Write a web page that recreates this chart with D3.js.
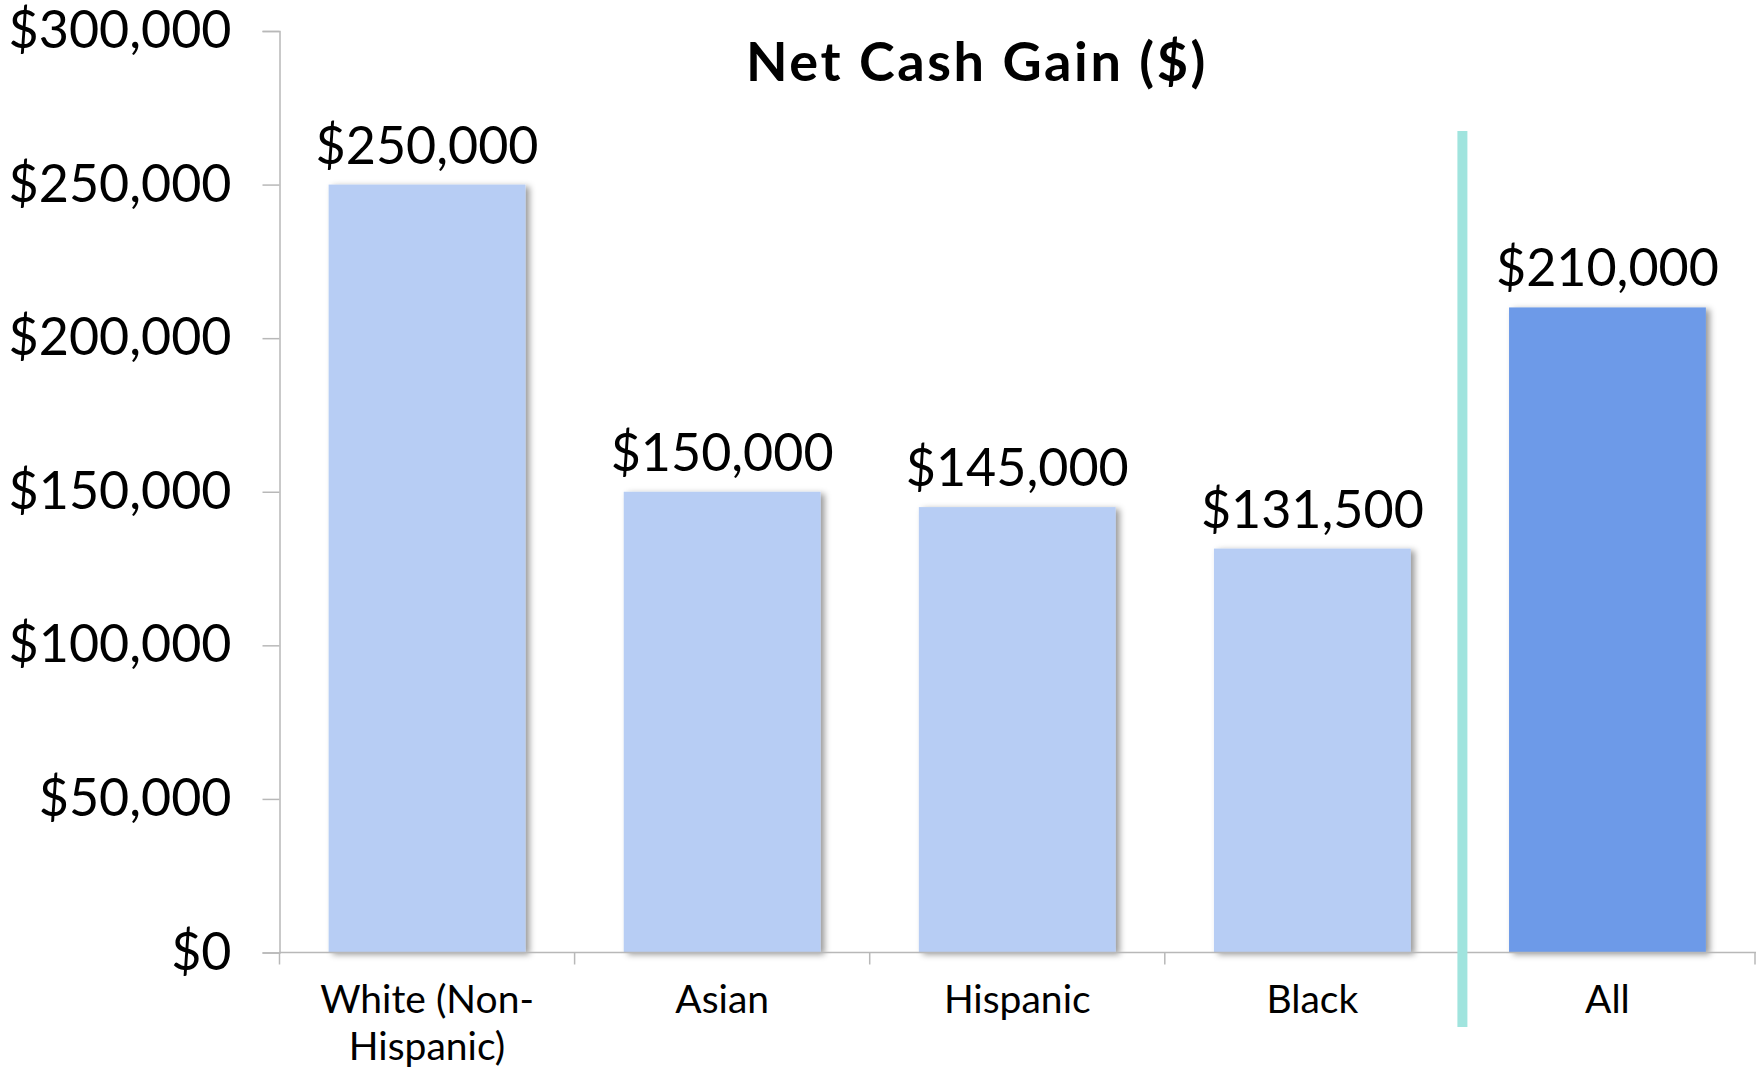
<!DOCTYPE html>
<html>
<head>
<meta charset="utf-8">
<script src="https://cdn.jsdelivr.net/npm/d3@7"></script>
<style>
  html, body { margin: 0; padding: 0; background: #fff; }
  svg { display: block; }
  text { font-family: Lato, "Open Sans", sans-serif; fill: #000; }
</style>
</head>
<body>
<svg id="chart" width="1756" height="1068"></svg>
<script>
// Net cash gain by group
const categories = ["White (Non-Hispanic)", "Asian", "Hispanic", "Black", "All"];
const categoryLines = [["White (Non-", "Hispanic)"], ["Asian"], ["Hispanic"], ["Black"], ["All"]];
const values = [250000, 150000, 145000, 131500, 210000];
const yTicks = [0, 50000, 100000, 150000, 200000, 250000, 300000];
const title = "Net Cash Gain ($)";

const W = 1756, H = 1068;
const plotLeft = 279.5, plotRight = 1755, plotTop = 31, plotBottom = 952.5;

const svg = d3.select("#chart");

const defs = svg.append("defs");
const shadow = defs.append("filter").attr("id", "barShadow")
  .attr("x", "-10%").attr("y", "-10%").attr("width", "130%").attr("height", "120%");
shadow.append("feDropShadow")
  .attr("dx", 4).attr("dy", 2).attr("stdDeviation", 3)
  .attr("flood-color", "#000").attr("flood-opacity", 0.4);

const x = d3.scaleBand().domain(categories).range([plotLeft, plotRight])
  .paddingInner(0.333).paddingOuter(0.1665);
const y = d3.scaleLinear().domain([0, 300000]).range([plotBottom, plotTop]);

const money = v => "$" + d3.format(",")(v);
const axisColor = "#B8B8B8";

// y axis
const yAxis = svg.append("g").attr("transform", `translate(${plotLeft},0)`)
  .call(d3.axisLeft(y).tickValues(yTicks).tickSize(17).tickPadding(31).tickFormat(money));
yAxis.select(".domain").attr("stroke", axisColor).attr("stroke-width", 1.5);
yAxis.selectAll(".tick line").attr("stroke", axisColor).attr("stroke-width", 1.5);
yAxis.selectAll(".tick text").attr("font-size", 52).attr("font-family", "Lato, sans-serif").attr("fill", "#000");

// bars
svg.append("g").selectAll("rect").data(categories).join("rect")
  .attr("x", d => x(d))
  .attr("width", x.bandwidth())
  .attr("y", (d, i) => y(values[i]))
  .attr("height", (d, i) => y(0) - y(values[i]))
  .attr("fill", d => d === "All" ? "#6D9AE8" : "#B7CDF4")
  .attr("filter", "url(#barShadow)");

// x axis (baseline with boundary ticks)
const step = x.step();
const boundaries = d3.range(categories.length + 1).map(i => plotLeft + i * step);
const xg = svg.append("g");
xg.append("line").attr("x1", plotLeft).attr("x2", W).attr("y1", y(0)).attr("y2", y(0))
  .attr("stroke", axisColor).attr("stroke-width", 1.5);
xg.selectAll("line.tick").data(boundaries).join("line").attr("class", "tick")
  .attr("x1", d => d).attr("x2", d => d).attr("y1", y(0)).attr("y2", y(0) + 12)
  .attr("stroke", axisColor).attr("stroke-width", 1.5);

// category labels
const catG = svg.append("g").selectAll("text").data(categories).join("text")
  .attr("x", d => x(d) + x.bandwidth() / 2)
  .attr("y", 1013)
  .attr("text-anchor", "middle")
  .attr("font-size", 39);
catG.each(function(d, i) {
  d3.select(this).selectAll("tspan").data(categoryLines[i]).join("tspan")
    .attr("x", x(d) + x.bandwidth() / 2)
    .attr("dy", (t, j) => j === 0 ? 0 : 47)
    .text(t => t);
});

// value labels
svg.append("g").selectAll("text").data(categories).join("text")
  .attr("x", d => x(d) + x.bandwidth() / 2)
  .attr("y", (d, i) => y(values[i]) - 21)
  .attr("text-anchor", "middle")
  .attr("font-size", 52)
  .text((d, i) => money(values[i]));

// separator between groups and the overall figure
const sepX = x("All") - x.paddingInner() * step / 2 + 2.5;
svg.append("line")
  .attr("x1", sepX).attr("x2", sepX).attr("y1", 131).attr("y2", 1027)
  .attr("stroke", "#A0E4DE").attr("stroke-width", 10);

// title
svg.append("text")
  .attr("x", 977).attr("y", 81)
  .attr("text-anchor", "middle")
  .attr("font-size", 54).attr("font-weight", 700)
  .attr("letter-spacing", 2.6)
  .text(title);
</script>
</body>
</html>
